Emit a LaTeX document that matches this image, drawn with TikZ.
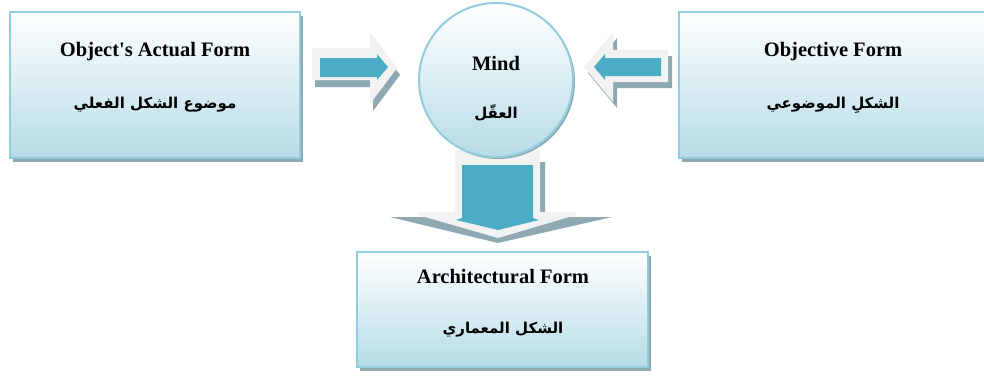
\documentclass[tikz,border=0pt]{standalone}
\usepackage{fontspec}
\setmainfont{Liberation Serif}
\newfontfamily\arabicfont[Script=Arabic]{DejaVu Sans}
\TeXXeTstate=1
\definecolor{edgeblue}{HTML}{93CDDD}
\definecolor{fillblue}{HTML}{B6DCE7}
\definecolor{shadowc}{HTML}{8EA9B2}
\definecolor{arrowblue}{HTML}{4BACC6}
\definecolor{arrowlight}{HTML}{F2F2F2}
\begin{document}
\begin{tikzpicture}[x=1pt,y=-1pt,
  box/.style={draw=edgeblue, line width=2pt, top color=white, bottom color=fillblue,
    shading=axis, inner sep=0pt,
    preaction={fill=shadowc, transform canvas={shift={(3pt,-4pt)}}}},
  entext/.style={font=\fontsize{20.5}{24}\selectfont\bfseries, inner sep=0pt},
  artext/.style={font=\arabicfont\fontsize{15}{19}\selectfont\bfseries, inner sep=0pt},
  light/.style={fill=arrowlight},
  blue/.style={fill=arrowblue},
  ashadow/.style={fill=shadowc}]
\useasboundingbox (0,0) rectangle (984,376);

% boxes
\node[box, minimum width=290pt, minimum height=146pt] (objbox) at (155,85) {};
\node[box, minimum width=310pt, minimum height=146pt] (objvbox) at (834,85) {};
\node[box, minimum width=291pt, minimum height=115pt] (archbox) at (502.5,309.5) {};

% right-pointing arrow (left side)
\fill[ashadow] (315,55) -- (373,55) -- (373,39) -- (400,75) -- (373,111) -- (373,87) -- (315,87) -- cycle;
\fill[light] (312,48) -- (370,48) -- (370,32) -- (397,68) -- (370,104) -- (370,80) -- (312,80) -- cycle;
\fill[blue] (320,58) -- (377,58) -- (377,54) -- (388,67) -- (377,80) -- (377,77) -- (320,77) -- cycle;

% left-pointing arrow (right side)
\fill[ashadow] (672,56) -- (617,56) -- (617,38) -- (588,73) -- (617,108) -- (617,88) -- (672,88) -- cycle;
\fill[light] (668,50) -- (613,50) -- (613,32) -- (584,67) -- (613,102) -- (613,82) -- (668,82) -- cycle;
\fill[blue] (661,58) -- (605,58) -- (605,54) -- (594,67) -- (605,80) -- (605,76) -- (661,76) -- cycle;

% down arrow
\fill[ashadow] (460,162) -- (545,162) -- (545,217) -- (612,217) -- (498,243) -- (390,217) -- (460,217) -- cycle;
\fill[light] (455,150) -- (540,150) -- (540,212) -- (576,212) -- (576,215) -- (498,238) -- (418,215) -- (418,212) -- (455,212) -- cycle;
\fill[blue] (462,165) -- (533,165) -- (533,218) -- (539,220) -- (498,230) -- (456,220) -- (462,218) -- cycle;

% mind circle
\fill[shadowc] (498,82) circle[radius=77];
\node[circle, draw=edgeblue, line width=2pt, top color=white, bottom color=fillblue,
  shading=axis, minimum size=154pt, inner sep=0pt] (mind) at (496,80) {};

% texts
\node[entext] (objtitle) at (155,52) {Object\textquotesingle s Actual Form};
\node[artext] (objar) at (155,105) {\beginR موضوع الشكل الفعلي\endR};
\node[entext] (objvtitle) at (833,52) {Objective Form};
\node[artext] (objvar) at (833,105) {\beginR الشكلِ الموضوعي\endR};
\node[entext] (mindtitle) at (496,63) {Mind};
\node[artext] (mindar) at (496,113) {\beginR العقّل\endR};
\node[entext] (archtitle) at (503,277) {Architectural Form};
\node[artext] (archar) at (503,330) {\beginR الشكل المعماري\endR};
\end{tikzpicture}
\end{document}
